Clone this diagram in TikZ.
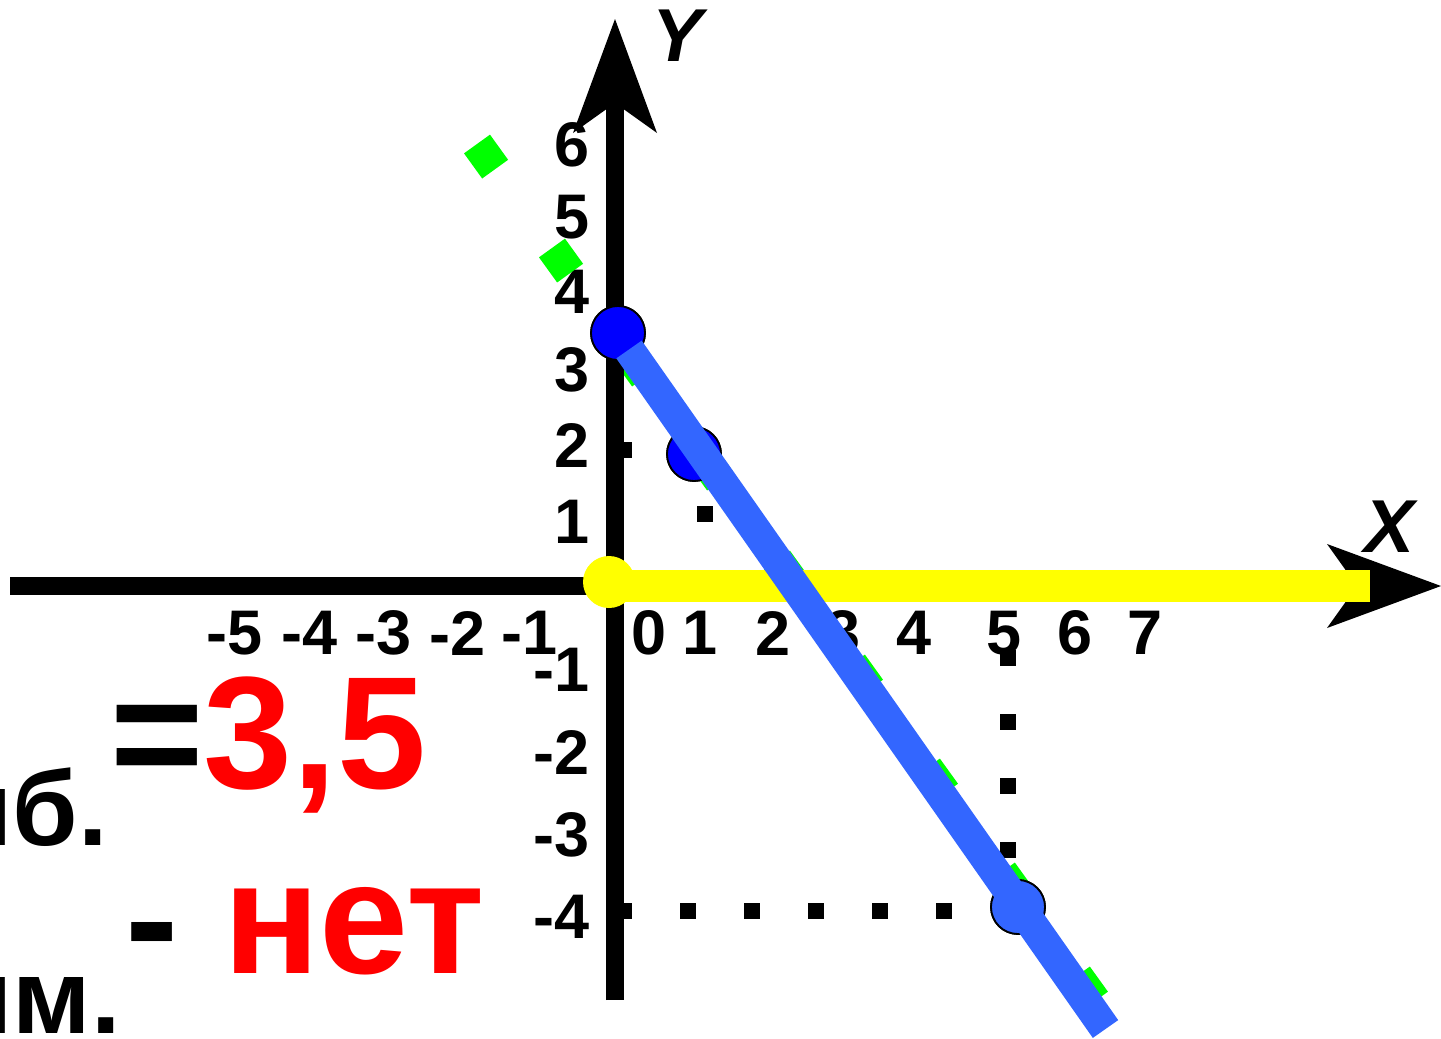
\documentclass[tikz,border=0pt]{standalone}
\usepackage{fontspec}
\setmainfont{Liberation Sans}
\usetikzlibrary{arrows.meta}
\definecolor{lineblue}{HTML}{3366FF}
\definecolor{pointblue}{HTML}{0000FF}
\definecolor{markgreen}{HTML}{00FF00}
\definecolor{axisyellow}{HTML}{FFFF00}
\definecolor{answerred}{HTML}{FF0000}

\begin{document}
\begin{tikzpicture}[
    x=0.5pt, y=-0.5pt,
    ticklabel/.style={inner sep=0pt, font=\fontsize{31.5}{32}\selectfont\bfseries},
    yticklabel/.style={ticklabel, anchor=east},
    axname/.style={inner sep=0pt, anchor=base west, font=\fontsize{37.5}{38}\selectfont\bfseries\itshape},
    bigtext/.style={inner sep=0pt, anchor=base west, font=\fontsize{80}{80}\selectfont\bfseries},
    cuttext/.style={inner sep=0pt, anchor=base east, font=\fontsize{53}{53}\selectfont\bfseries},
    axisline/.style={line width=9pt, -{Stealth[length=57pt, width=42pt, inset=15pt, line width=0pt]}},
    dotline/.style={line width=8pt, dash pattern=on 8pt off 24pt},
    greenline/.style={draw=markgreen, line width=16pt, dash pattern=on 15.5pt off 48.6pt},
    yellowline/.style={draw=axisyellow, line width=16pt},
    graphline/.style={draw=lineblue, line width=15.5pt},
    pointdot/.style={circle, draw=black, line width=0.9pt, fill=pointblue, minimum size=27pt, inner sep=0pt}
]
\useasboundingbox (0,0) rectangle (1441,1039);

% Tick labels on the x axis
\node[ticklabel] (xm5) at (235,633) {-5};
\node[ticklabel] (xm4) at (310,633) {-4};
\node[ticklabel] (xm3) at (384,633) {-3};
\node[ticklabel] (xm2) at (458,633) {-2};
\node[ticklabel] (xm1) at (530,633) {-1};
\node[ticklabel] (xp0) at (649,633) {0};
\node[ticklabel] (xp1) at (700,633) {1};
\node[ticklabel] (xp2) at (773,633) {2};
\node[ticklabel] (xp3) at (843,633) {3};
\node[ticklabel] (xp4) at (914,633) {4};
\node[ticklabel] (xp5) at (1004,633) {5};
\node[ticklabel] (xp6) at (1075,633) {6};
\node[ticklabel] (xp7) at (1145,633) {7};

% Tick labels on the y axis
\node[yticklabel] (yp6) at (590,145) {6};
\node[yticklabel] (yp5) at (590,217) {5};
\node[yticklabel] (yp4) at (590,292) {4};
\node[yticklabel] (yp3) at (590,370) {3};
\node[yticklabel] (yp2) at (590,445) {2};
\node[yticklabel] (yp1) at (590,522) {1};
\node[yticklabel] (ym1) at (590,670) {-1};
\node[yticklabel] (ym2) at (590,752) {-2};
\node[yticklabel] (ym3) at (590,835) {-3};
\node[yticklabel] (ym4) at (590,917) {-4};

% Axis names
\node[axname] (ny) at (652,61) {Y};
\node[axname] (nx) at (1364,552) {X};

% Answers on the left
\node[bigtext] (eqv) at (110,788) {=\textcolor{answerred}{3,5}};
\node[bigtext] (nov) at (125,973) {- \textcolor{answerred}{нет}};
\node[cuttext] (nb) at (108,845) {иб.};
\node[cuttext] (nm) at (121,1033) {им.};

% Green marks under the graph
\coordinate (gstart) at (477,144);
\coordinate (gend) at (1100,1008);
\draw[greenline] (gstart) -- (gend);

% Points and their dotted guides
\node[pointdot] (pA) at (618,333) {};
\node[pointdot] (pB) at (694,454) {};
\node[pointdot, fill=lineblue] (pC) at (1018,907) {};
\coordinate (hB) at (616,450);
\coordinate (vB) at (705,506);
\coordinate (hC) at (616,911);
\coordinate (vC) at (1007.5,650);
\draw[dotline] (hB) -- (hB -| pB);
\draw[dotline] (vB) -- (705,586);
\draw[dotline] (hC) -- (hC -| pC);
\draw[dotline] (vC) -- (vC |- pC);

% Axes
\coordinate (xl) at (10,586);
\coordinate (xr) at (1441,586);
\coordinate (yb) at (615,1000);
\coordinate (yt) at (615,19);
\draw[axisline] (xl) -- (xr);
\draw[axisline] (yb) -- (yt);

% Positive half of the x axis
\node[circle, fill=axisyellow, minimum size=26pt, inner sep=0pt] (O) at (609,582) {};
\coordinate (yend) at (1370,586);
\draw[yellowline] (O.center |- yend) -- (yend);

% Graph over the points
\node[pointdot] at (pA) {};
\node[pointdot] at (pB) {};
\node[pointdot, fill=lineblue] at (pC) {};
\coordinate (bstart) at (629,349.5);
\coordinate (bend) at (1105.5,1029);
\draw[graphline] (bstart) -- (bend);

\end{tikzpicture}
\end{document}
